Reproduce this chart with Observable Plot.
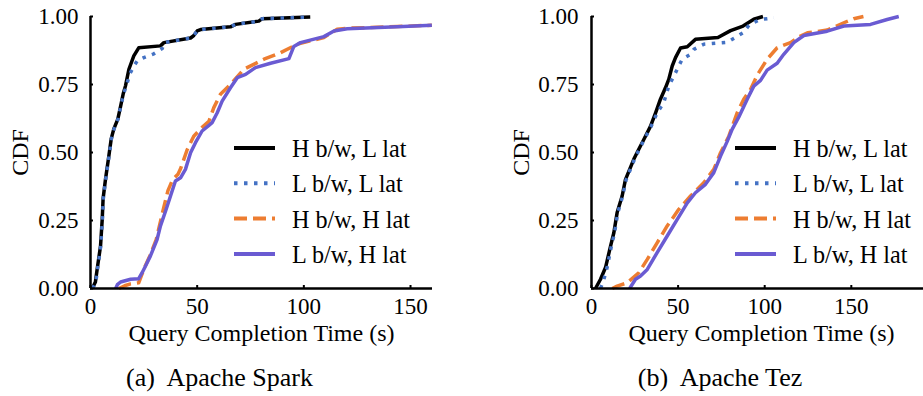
<!DOCTYPE html>
<html>
<head>
<meta charset="utf-8">
<script src="https://cdn.jsdelivr.net/npm/d3@7"></script>
<script src="https://cdn.jsdelivr.net/npm/@observablehq/plot@0.6"></script>
<style>
  html, body { margin: 0; padding: 0; background: #fff; overflow: hidden; }
  #fig { position: relative; width: 923px; height: 396px; overflow: hidden;
         font-family: "Liberation Serif", "Times New Roman", serif; color: #000; }
  .panel { position: absolute; top: 0; }
  .caption { position: absolute; top: 365px; font-size: 26px; line-height: 26px;
             white-space: pre; transform: translateX(-50%); }
  svg.legend { position: absolute; left: 0; top: 0; overflow: visible; }
</style>
</head>
<body>
<div id="fig"></div>
<script>
// Series labels (legend order) and axis ticks
const seriesNames = ["H b/w, L lat", "L b/w, L lat", "H b/w, H lat", "L b/w, H lat"];
const xTicks = [0, 50, 100, 150];
const yTicks = [0, 0.25, 0.5, 0.75, 1];
const captions = ["(a)  Apache Spark", "(b)  Apache Tez"];

// Apache Spark: [query completion time (s), CDF]
const sparkHbwLlat = [[0.8,0],[2.3,0.024],[3.1,0.07],[4.7,0.156],[5.5,0.255],[5.9,0.33],[7.0,0.40],[8.6,0.487],[9.7,0.55],[10.9,0.586],[12.8,0.623],[14.1,0.67],[15.3,0.715],[16.4,0.745],[18.0,0.806],[20.3,0.855],[22.6,0.885],[32.8,0.892],[34.4,0.904],[46.9,0.921],[48.4,0.93],[50,0.947],[51.6,0.952],[65.6,0.962],[68,0.971],[78.9,0.983],[80.5,0.992],[103,0.998]];
const sparkLbwLlat = [[1.0,0],[2.5,0.024],[3.3,0.07],[4.8,0.156],[5.6,0.255],[6.0,0.33],[7.1,0.40],[8.7,0.487],[9.8,0.55],[11.0,0.586],[12.9,0.623],[14.2,0.67],[15.5,0.715],[16.8,0.745],[18.5,0.79],[20.5,0.82],[22,0.838],[25,0.849],[29.7,0.863],[33.6,0.882],[34.6,0.904],[46.9,0.921],[48.4,0.93],[50,0.947],[51.6,0.952],[65.6,0.962],[68,0.971],[78.9,0.983],[80.5,0.992],[103,0.998]];
const sparkHbwHlat = [[13.3,0],[16,0.01],[18.8,0.017],[22.6,0.021],[24,0.05],[25.5,0.08],[27.8,0.12],[30.8,0.18],[32.3,0.23],[34.4,0.3],[36.3,0.36],[38.5,0.40],[41,0.42],[42.2,0.44],[45.3,0.51],[48.4,0.56],[52,0.59],[55.5,0.615],[57.8,0.665],[60.9,0.714],[65.6,0.75],[71.9,0.806],[81.3,0.843],[89.1,0.867],[96.9,0.898],[109.4,0.923],[115.6,0.953],[120.3,0.957],[143.8,0.963],[160,0.968]];
const sparkLbwHlat = [[11.8,0],[12.6,0.014],[14.1,0.024],[18.8,0.034],[22.6,0.036],[24.2,0.058],[25.8,0.083],[28.1,0.12],[31.2,0.18],[32.8,0.23],[35.2,0.285],[37.5,0.34],[39.8,0.395],[42.2,0.407],[44.5,0.438],[46.9,0.499],[49.2,0.536],[52.3,0.579],[55.5,0.6],[57,0.61],[59.4,0.646],[61.7,0.689],[65.6,0.738],[68.8,0.775],[72.7,0.787],[77.3,0.812],[84.4,0.828],[93,0.845],[95.3,0.89],[98.4,0.904],[109.4,0.926],[114.1,0.947],[120.3,0.955],[143.8,0.962],[160,0.968]];

// Apache Tez: [query completion time (s), CDF]
const tezHbwLlat = [[2.3,0],[5.2,0.034],[8.1,0.077],[11,0.156],[12.9,0.205],[14.8,0.279],[17.7,0.34],[19.6,0.40],[24.4,0.475],[27.3,0.512],[30.2,0.548],[34.1,0.597],[37,0.646],[39.8,0.696],[42.7,0.738],[44.6,0.769],[46.6,0.818],[48.5,0.849],[51.4,0.884],[55.3,0.889],[60,0.916],[73,0.923],[80.3,0.948],[87.5,0.965],[93.7,0.99],[99,1.0]];
const tezLbwLlat = [[5.2,0],[7,0.03],[9,0.077],[11.5,0.156],[13.3,0.205],[15.2,0.279],[18,0.34],[20,0.40],[24.8,0.475],[27.6,0.512],[30.5,0.548],[34.5,0.597],[37.9,0.646],[41.7,0.683],[44.6,0.744],[48.5,0.793],[50.5,0.82],[52.4,0.843],[57.2,0.861],[59.1,0.879],[64.8,0.898],[78.3,0.905],[87.5,0.94],[91.3,0.971],[97.6,0.989],[105.3,0.995]];
const tezHbwHlat = [[12,0],[14.8,0.009],[20.6,0.021],[27.3,0.058],[32.2,0.107],[37.9,0.168],[43.7,0.23],[50.4,0.291],[57.2,0.34],[64.8,0.389],[70.6,0.438],[74.5,0.499],[79.3,0.56],[84.1,0.646],[86,0.671],[87.9,0.696],[91.8,0.732],[95.7,0.785],[101.4,0.843],[107.2,0.885],[114.9,0.904],[120.7,0.928],[124.7,0.94],[136.1,0.95],[145.7,0.977],[151.4,0.992],[157,1.0]];
const tezLbwHlat = [[22,0],[25.4,0.034],[28.3,0.046],[32.2,0.07],[37.9,0.132],[43.7,0.193],[49.5,0.254],[55.3,0.315],[60,0.352],[65.8,0.383],[70.6,0.426],[74.5,0.487],[78.3,0.54],[81.2,0.585],[85,0.63],[89.9,0.696],[91.8,0.72],[93.7,0.744],[97.6,0.765],[101.4,0.803],[107.2,0.828],[111,0.861],[116.8,0.904],[122.6,0.93],[136.1,0.946],[145.7,0.965],[161.1,0.971],[170.7,0.989],[177.4,1.0]];

// Line styles, one per series (legend order)
const lineStyles = [
  {stroke: "#000000", dash: null},
  {stroke: "#4472c4", dash: "3.5,6.5"},
  {stroke: "#ed7d31", dash: "13,6"},
  {stroke: "#6a5bd2", dash: null}
];
const LW = 3.5;
const FONT = '"Liberation Serif", "Times New Roman", serif';

const fig = document.getElementById("fig");

function drawPanel({left, width, marginLeft, marginRight, xMax, yPad, series, legendX, caption, captionX}) {
  const chart = Plot.plot({
    width, height: 345,
    marginTop: 16, marginBottom: 57, marginLeft, marginRight,
    style: {fontFamily: FONT, fontSize: "23px", color: "#000", background: "transparent", overflow: "visible"},
    x: {domain: [0, xMax]},
    y: {domain: [0, 1]},
    marks: [
      Plot.axisX({ticks: xTicks, tickSize: -3, tickPadding: 12, strokeWidth: 2, tickFormat: d => String(d),
                  fontSize: 23, label: "Query Completion Time (s)", labelAnchor: "center",
                  labelArrow: "none", labelOffset: 52}),
      Plot.axisY({ticks: yTicks, tickSize: -3, tickPadding: yPad, strokeWidth: 2, tickFormat: d3.format(".2f"),
                  fontSize: 23, label: "CDF", labelAnchor: "center", labelArrow: "none", labelOffset: 80}),
      ...series.map((data, i) => Plot.line(data, {
        x: d => d[0], y: d => d[1],
        stroke: lineStyles[i].stroke, strokeWidth: LW,
        strokeDasharray: lineStyles[i].dash, strokeLinecap: "butt", strokeLinejoin: "round"
      })),
      Plot.ruleX([0], {strokeWidth: 2.5}),
      Plot.ruleY([0], {strokeWidth: 2.5})
    ]
  });
  // axis titles are a touch larger than the tick labels
  chart.querySelectorAll('g[aria-label="x-axis label"], g[aria-label="y-axis label"]')
    .forEach(g => g.setAttribute("font-size", "24"));
  chart.classList.add("panel");
  chart.style.left = left + "px";
  fig.appendChild(chart);

  // Legend inside the plot area
  const rowY = [148, 183.3, 218.6, 254];
  const leg = d3.select(fig).append("svg").attr("class", "legend")
    .attr("width", 923).attr("height", 396);
  const g = leg.selectAll("g").data(seriesNames).join("g");
  g.append("line")
    .attr("x1", legendX).attr("x2", legendX + 41)
    .attr("y1", (d, i) => rowY[i]).attr("y2", (d, i) => rowY[i])
    .attr("stroke", (d, i) => lineStyles[i].stroke)
    .attr("stroke-width", 4)
    .attr("stroke-dasharray", (d, i) => lineStyles[i].dash);
  g.append("text")
    .attr("x", legendX + 58).attr("y", (d, i) => rowY[i] + 9)
    .attr("font-family", FONT).attr("font-size", 24.2)
    .text(d => d);

  const cap = document.createElement("div");
  cap.className = "caption";
  cap.style.left = captionX + "px";
  cap.textContent = caption;
  fig.appendChild(cap);
}

drawPanel({left: 0, width: 460, marginLeft: 90, marginRight: 28, xMax: 160.3, yPad: 15,
  series: [sparkHbwLlat, sparkLbwLlat, sparkHbwHlat, sparkLbwHlat],
  legendX: 234, caption: captions[0], captionX: 219.5});
drawPanel({left: 460, width: 471, marginLeft: 131, marginRight: 0, xMax: 196.3, yPad: 16,
  series: [tezHbwLlat, tezLbwLlat, tezHbwHlat, tezLbwHlat],
  legendX: 735, caption: captions[1], captionX: 720});
</script>
</body>
</html>
